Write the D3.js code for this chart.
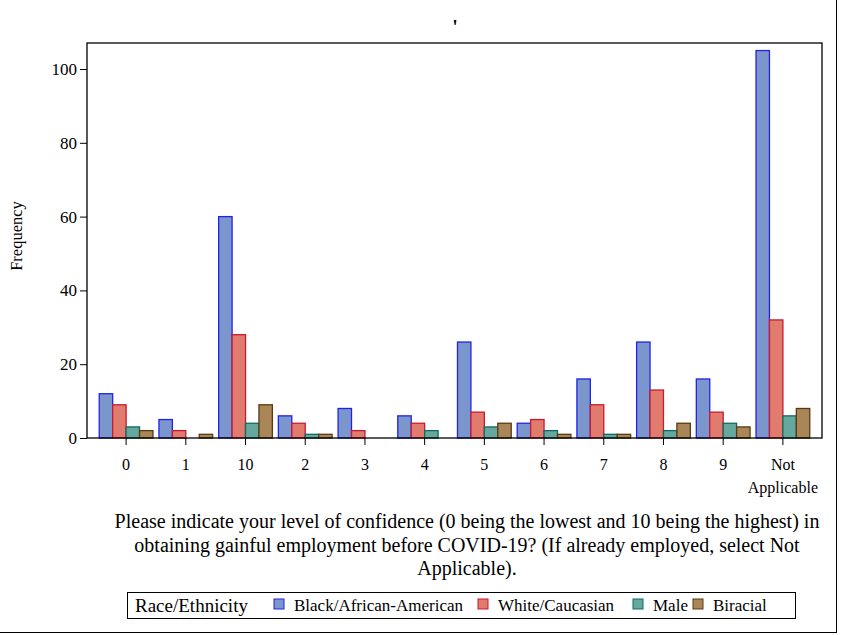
<!DOCTYPE html>
<html>
<head>
<meta charset="utf-8">
<script src="https://cdn.jsdelivr.net/npm/d3@7"></script>
<style>
  html, body { margin: 0; padding: 0; background: #fff; }
  svg { display: block; }
</style>
</head>
<body>
<svg id="chart" width="842" height="635" font-family="Liberation Serif, serif"></svg>
<script>
// Response levels on the x axis (in the order they are sorted as strings)
const categories = ["0", "1", "10", "2", "3", "4", "5", "6", "7", "8", "9", "Not Applicable"];

// Groups shown in the legend
const groups = ["Black/African-American", "White/Caucasian", "Male", "Biracial"];

// Frequency per response level for each group
const blackAfricanAmerican = [12, 5, 60, 6, 8, 6, 26, 4, 16, 26, 16, 105];
const whiteCaucasian       = [9, 2, 28, 4, 2, 4, 7, 5, 9, 13, 7, 32];
const male                 = [3, 0, 4, 1, 0, 2, 3, 2, 1, 2, 4, 6];
const biracial             = [2, 1, 9, 1, 0, 0, 4, 1, 1, 4, 3, 8];

const yTicks = [0, 20, 40, 60, 80, 100];

const seriesValues = [blackAfricanAmerican, whiteCaucasian, male, biracial];
const fills   = ["#7b96cc", "#e07b6e", "#66a89e", "#a88658"];
const strokes = ["#2323e6", "#c81a30", "#0e6b60", "#5a3a10"];

const FONT = "Liberation Serif, Times New Roman, serif";
const svg = d3.select("#chart");

function label(parent, txt, x, y, size, anchor) {
  return parent.append("text")
    .attr("x", x).attr("y", y)
    .attr("text-anchor", anchor || "start")
    .style("font-family", FONT)
    .style("font-size", size + "px")
    .attr("fill", "#000")
    .text(txt);
}

// outer frame of the graphic
svg.append("rect")
  .attr("x", -1).attr("y", -1)
  .attr("width", 837.5).attr("height", 633.5)
  .attr("fill", "none").attr("stroke", "#000").attr("stroke-width", 1);

// title (a lone apostrophe)
label(svg, "'", 455, 34, 20, "middle").style("font-weight", "bold");

const plot = { left: 87, right: 822, top: 43, bottom: 438 };

const x = d3.scaleBand()
  .domain(categories)
  .range([plot.left, plot.right])
  .paddingInner(0)
  .paddingOuter(0.155);

const xInner = d3.scaleBand()
  .domain(groups)
  .range([0, x.bandwidth() * 0.9]);

const y = d3.scaleLinear()
  .domain([0, 100])
  .range([plot.bottom, 69]);

// bars
const g = svg.append("g");
categories.forEach((cat, i) => {
  const x0 = x(cat) + x.bandwidth() * 0.05;
  groups.forEach((grp, s) => {
    const v = seriesValues[s][i];
    if (v <= 0) return;
    g.append("rect")
      .attr("x", x0 + xInner(grp))
      .attr("y", y(v))
      .attr("width", xInner.bandwidth())
      .attr("height", y(0) - y(v))
      .attr("fill", fills[s])
      .attr("stroke", strokes[s])
      .attr("stroke-width", 1.3);
  });
});

// plot frame
svg.append("rect")
  .attr("x", plot.left).attr("y", plot.top)
  .attr("width", plot.right - plot.left).attr("height", plot.bottom - plot.top)
  .attr("fill", "none").attr("stroke", "#000").attr("stroke-width", 1.3);

// y axis
const yAxis = svg.append("g")
  .attr("transform", `translate(${plot.left},0)`)
  .call(d3.axisLeft(y).tickValues(yTicks).tickSize(7).tickPadding(3));
yAxis.select(".domain").remove();
yAxis.attr("font-family", null).attr("font-size", null);
yAxis.selectAll("text").style("font-size", "17px").style("font-family", FONT);
yAxis.selectAll("line").attr("stroke", "#000");

// x axis (ticks from the axis, labels wrapped onto lines)
const xAxis = svg.append("g")
  .attr("transform", `translate(0,${plot.bottom})`)
  .call(d3.axisBottom(x).tickSize(7).tickFormat(""));
xAxis.select(".domain").remove();
xAxis.selectAll("line").attr("stroke", "#000");
categories.forEach(cat => {
  cat.split(" ").forEach((w, k) => {
    label(svg, w, x(cat) + x.bandwidth() / 2, 470 + k * 23, 16, "middle");
  });
});

// y axis title
svg.append("text")
  .attr("transform", "translate(22,236) rotate(-90)")
  .attr("text-anchor", "middle")
  .style("font-family", FONT)
  .style("font-size", "16.5px")
  .text("Frequency");

// x axis title
const xTitle = [
  "Please indicate your level of confidence (0 being the lowest and 10 being the highest) in",
  "obtaining gainful employment before COVID-19? (If already employed, select Not",
  "Applicable)."
];
xTitle.forEach((line, i) => label(svg, line, 467, 528 + i * 23.5, 20, "middle"));

// legend
const legend = svg.append("g");
legend.append("rect")
  .attr("x", 127.5).attr("y", 592.5)
  .attr("width", 668).attr("height", 26)
  .attr("fill", "none").attr("stroke", "#000").attr("stroke-width", 1);
label(legend, "Race/Ethnicity", 135, 612, 19);

const legendX = [274, 478, 633, 693];
groups.forEach((grp, s) => {
  legend.append("rect")
    .attr("x", legendX[s]).attr("y", 599)
    .attr("width", 10).attr("height", 10)
    .attr("fill", fills[s]).attr("stroke", strokes[s]).attr("stroke-width", 1);
  label(legend, grp, legendX[s] + 20, 611, 17);
});
</script>
</body>
</html>
